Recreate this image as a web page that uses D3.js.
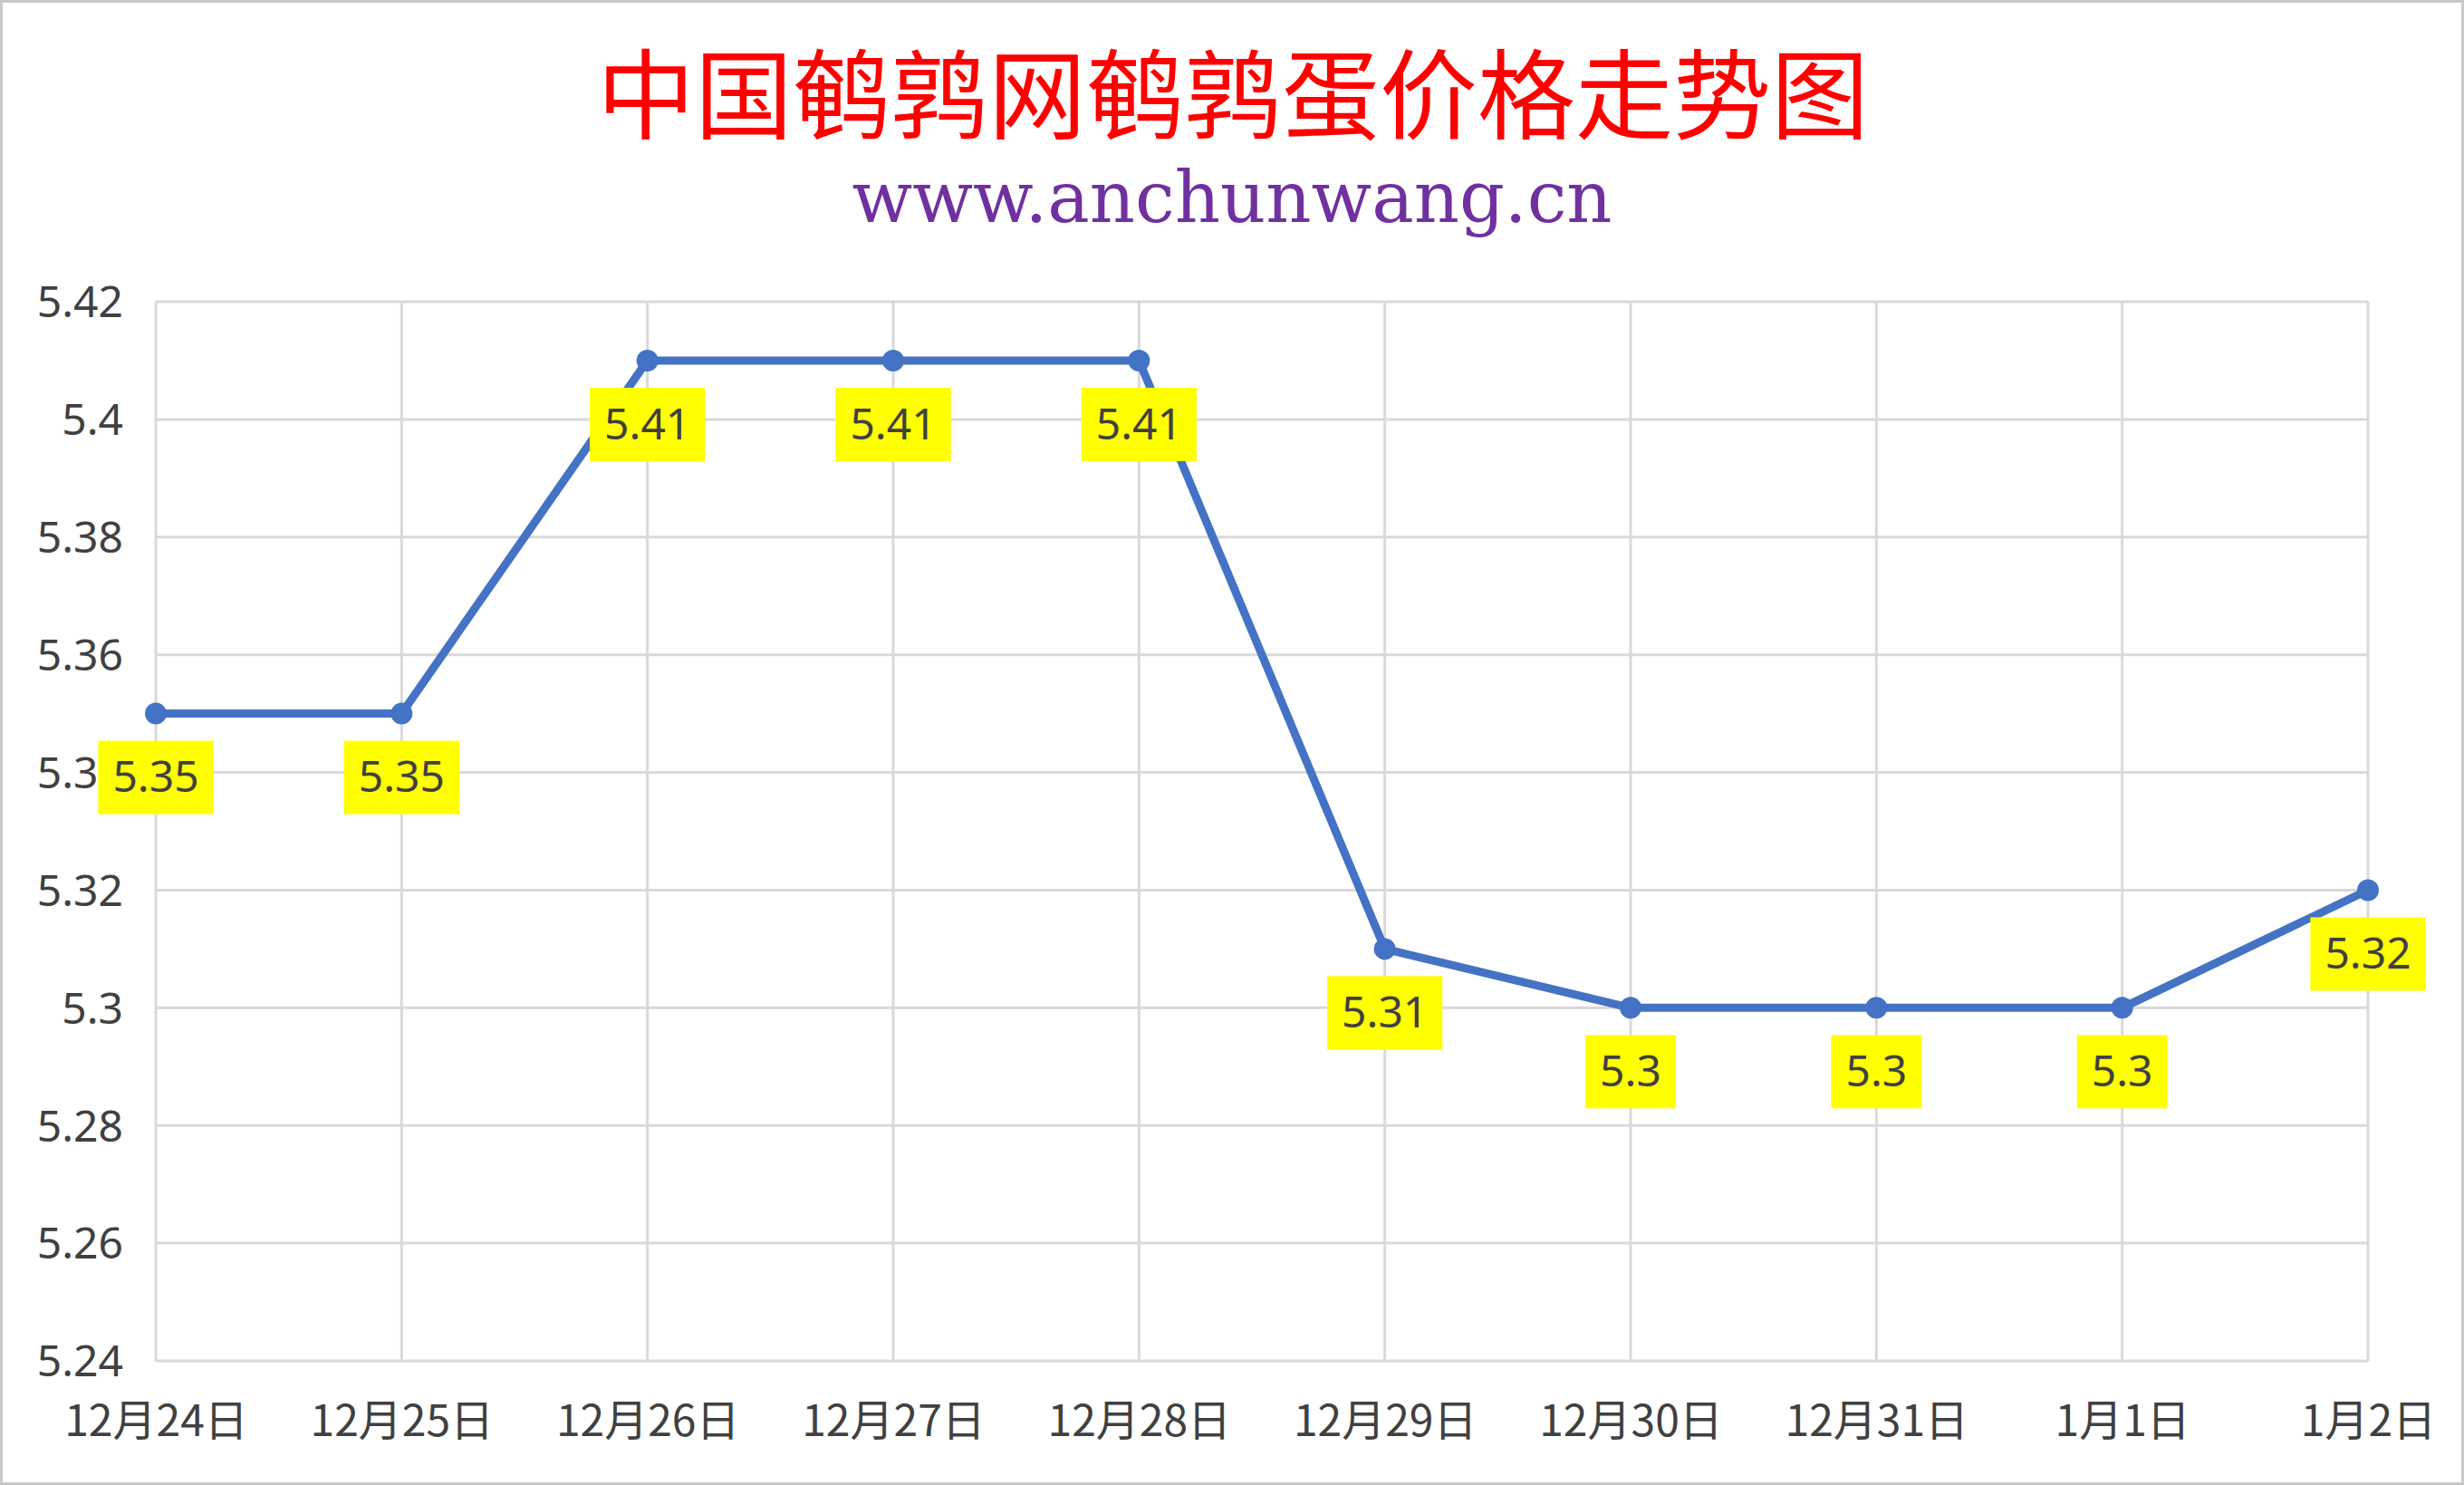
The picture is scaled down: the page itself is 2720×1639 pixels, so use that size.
<!DOCTYPE html>
<html>
<head>
<meta charset="utf-8">
<script src="https://cdn.jsdelivr.net/npm/d3@7"></script>
<style>
  html, body { margin: 0; padding: 0; background: #fff; }
  svg { display: block; }
</style>
</head>
<body>
<svg id="chart"></svg>
<script>
"use strict";
(function () {

    const W = 2720,
        H = 1639;

    // data
    const dates = ["12月24日", "12月25日", "12月26日", "12月27日", "12月28日",
        "12月29日", "12月30日", "12月31日", "1月1日", "1月2日"];
    const prices = [5.35, 5.35, 5.41, 5.41, 5.41, 5.31, 5.3, 5.3, 5.3, 5.32];
    const yTicks = [5.24, 5.26, 5.28, 5.3, 5.32, 5.34, 5.36, 5.38, 5.4, 5.42];

    const TITLE = "中国鹌鹑网鹌鹑蛋价格走势图",
        SUBTITLE = "www.anchunwang.cn";

    const plot = { left: 172, right: 2614, top: 333, bottom: 1502 };
    const TEXT = "#404040",
        GRID = "#D9D9D9",
        LINE = "#4472C4";

    const svg = d3.select("#chart")
        .attr("width", W)
        .attr("height", H);

    svg.append("rect")
        .attr("x", 1.5)
        .attr("y", 1.5)
        .attr("width", W - 3)
        .attr("height", H - 3)
        .attr("fill", "#fff")
        .attr("stroke", "#C8C8C8")
        .attr("stroke-width", 3);

    const x = d3.scalePoint()
        .domain(dates)
        .range([plot.left, plot.right]);

    const y = d3.scaleLinear()
        .domain([5.24, 5.42])
        .range([plot.bottom, plot.top]);

    // gridlines
    svg.append("g")
        .selectAll("line")
        .data(yTicks)
        .enter()
        .append("line")
        .attr("x1", plot.left)
        .attr("x2", plot.right)
        .attr("y1", d => y(d))
        .attr("y2", d => y(d))
        .attr("stroke", GRID)
        .attr("stroke-width", 3);

    svg.append("g")
        .selectAll("line")
        .data(dates)
        .enter()
        .append("line")
        .attr("x1", d => x(d))
        .attr("x2", d => x(d))
        .attr("y1", plot.top)
        .attr("y2", plot.bottom)
        .attr("stroke", GRID)
        .attr("stroke-width", 3);

    // y axis labels
    const yAxis = d3.axisLeft(y)
        .tickValues(yTicks)
        .tickFormat(d => String(+d.toFixed(2)))
        .tickSize(0)
        .tickPadding(36);

    svg.append("g")
        .attr("transform", `translate(${plot.left},0)`)
        .call(yAxis)
        .call(g => g.select(".domain").remove())
        .selectAll("text")
        .attr("font-family", "'Noto Sans', 'Noto Sans CJK SC', sans-serif")
        .attr("font-size", 48)
        .attr("fill", TEXT)
        .attr("dy", "0.35em");

    // x axis labels
    const xAxis = d3.axisBottom(x)
        .tickSize(0)
        .tickPadding(0);

    svg.append("g")
        .attr("transform", `translate(0,${plot.bottom})`)
        .call(xAxis)
        .call(g => g.select(".domain").remove())
        .selectAll("text")
        .attr("font-family", "'Noto Sans CJK SC', 'Noto Sans', sans-serif")
        .attr("font-size", 48)
        .attr("fill", TEXT)
        .attr("y", 66)
        .attr("dy", "0.35em");

    // series
    const points = dates.map((d, i) => ({ date: d, value: prices[i] }));

    const line = d3.line()
        .x(p => x(p.date))
        .y(p => y(p.value));

    svg.append("path")
        .datum(points)
        .attr("d", line)
        .attr("fill", "none")
        .attr("stroke", LINE)
        .attr("stroke-width", 9)
        .attr("stroke-linejoin", "round");

    svg.append("g")
        .selectAll("circle")
        .data(points)
        .enter()
        .append("circle")
        .attr("cx", p => x(p.date))
        .attr("cy", p => y(p.value))
        .attr("r", 12)
        .attr("fill", LINE);

    // data labels with yellow boxes
    const labels = svg.append("g")
        .selectAll("g")
        .data(points)
        .enter()
        .append("g")
        .attr("transform", p => `translate(${x(p.date)},${y(p.value) + 70})`);

    labels.append("text")
        .attr("text-anchor", "middle")
        .attr("dy", "0.35em")
        .attr("font-family", "'Noto Sans', sans-serif")
        .attr("font-size", 48)
        .attr("fill", TEXT)
        .text(p => String(p.value));

    labels.each(function () {
        const g = d3.select(this);
        const box = g.select("text").node().getBBox();
        g.insert("rect", "text")
            .attr("x", -box.width / 2 - 16)
            .attr("y", -40)
            .attr("width", box.width + 32)
            .attr("height", 81)
            .attr("fill", "#FFFF00");
    });

    // titles
    svg.append("text")
        .attr("x", 1361)
        .attr("y", 98)
        .attr("text-anchor", "middle")
        .attr("dominant-baseline", "central")
        .attr("font-family", "'Noto Sans CJK SC', sans-serif")
        .attr("font-size", 108)
        .attr("fill", "#FF0000")
        .text(TITLE);

    svg.append("text")
        .attr("x", 1360)
        .attr("y", 245)
        .attr("text-anchor", "middle")
        .attr("font-family", "'DejaVu Serif', 'Liberation Serif', serif")
        .attr("font-size", 78)
        .attr("fill", "#7030A0")
        .text(SUBTITLE);

})();
</script>
</body>
</html>
